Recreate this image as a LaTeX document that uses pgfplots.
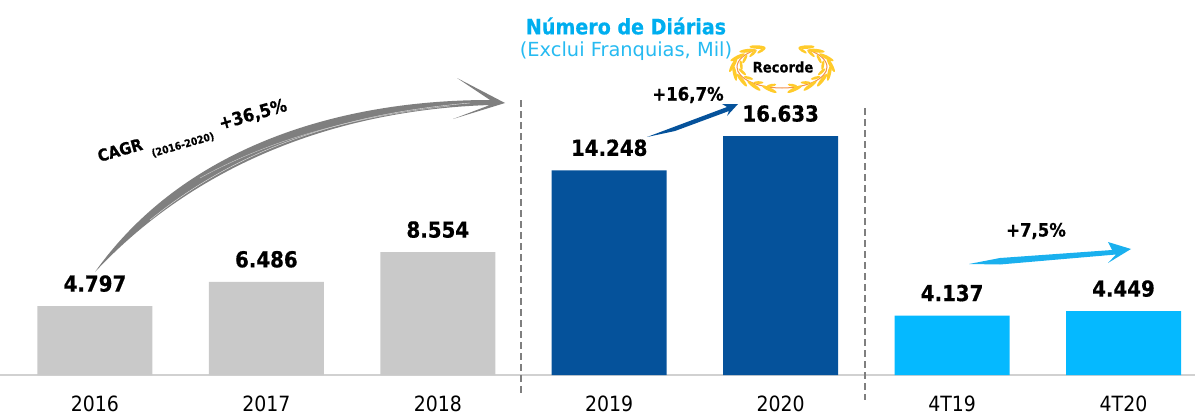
\documentclass[border=0pt]{standalone}
\usepackage{fontspec}
\setmainfont{DejaVu Sans}
\newfontfamily\cond{DejaVu Sans Condensed}[BoldFeatures={FakeBold=0.6}]
\usepackage{pgfplots}
\pgfplotsset{compat=1.18}
\definecolor{bargray}{HTML}{C9C9C9}
\definecolor{bardark}{HTML}{05529B}
\definecolor{barlight}{HTML}{05B9FF}
\definecolor{titleblue}{HTML}{00AEEF}
\definecolor{arrowgray}{HTML}{7F7F7F}
\definecolor{arrowlight}{HTML}{1AB0EE}
\definecolor{leafgold}{HTML}{FFCB2B}
\definecolor{stemorange}{HTML}{F2914A}
\begin{document}
\begin{tikzpicture}
\useasboundingbox (0,-19.5pt) rectangle (597.5pt,187.5pt);
\begin{axis}[
    scale only axis,
    width=597.5pt, height=187.5pt,
    xmin=-0.554, xmax=6.417,
    ymin=0, ymax=26100,
    ybar, bar shift=0pt, bar width=57.5pt,
    clip=false,
    axis y line=none,
    axis x line*=bottom,
    x axis line style={-, draw=black!18, line width=1pt},
    xtick={0,1,2,3,4,5,6},
    xticklabels={2016,2017,2018,2019,2020,4T19,4T20},
    major tick length=0pt,
    xtick style={draw=none},
    xticklabel style={font=\cond\fontsize{10.5}{12}\selectfont, anchor=base, yshift=-18.25pt},
    nodes near coords,
    /pgf/number format/1000 sep={.},
    /pgf/number format/assume math mode=true,
    every node near coord/.append style={font=\cond\bfseries\fontsize{11}{13}\selectfont, anchor=center, yshift=11.25pt},
]
\addplot[fill=bargray, draw=none] coordinates {(0,4797) (1,6486) (2,8554)};
\addplot[fill=bardark, draw=none] coordinates {(3,14248) (4,16633)};
\addplot[fill=barlight, draw=none] coordinates {(5,4137) (6,4449)};
\end{axis}
% annotations in picture pixels
\begin{scope}[x=0.5pt,y=-0.5pt,yshift=187.5pt]
\draw[arrowgray, line width=0.75pt, dash pattern=on 3.5pt off 2pt] (521,100) -- (521,395);
\draw[arrowgray, line width=0.75pt, dash pattern=on 3.5pt off 2pt] (865,108) -- (865,400);
% titles
\node[text=titleblue, font=\cond\bfseries\fontsize{10.6}{12}\selectfont] at (626,26) {Número de Diárias};
\node[text=titleblue!85, font=\fontsize{9.7}{11}\selectfont] at (626,51) {(Exclui Franquias, Mil)};
% CAGR arrow
\fill[arrowgray] (95,272) .. controls (180,152) and (330,100) .. (490,100)
  -- (457,78) -- (505,103) -- (453,119) -- (490,105)
  .. controls (335,110) and (195,165) .. (95,272) -- cycle;
\draw[white!80!arrowgray, line width=0.2pt] (150,220) .. controls (230,155) and (330,115) .. (470,103);
\draw[white!60!arrowgray, line width=0.2pt] (200,178) .. controls (260,145) and (340,118) .. (450,106);
\node[rotate=16, font=\cond\bfseries\fontsize{8.2}{10}\selectfont] at (120,150) {CAGR};
\node[rotate=16, font=\cond\bfseries\fontsize{5.2}{7}\selectfont] at (183,145) {(2016-2020)};
\node[rotate=16, font=\cond\bfseries\fontsize{9}{11}\selectfont] at (253,115) {+36,5\%};
% 2019 to 2020 arrow
\fill[bardark] (647,137) -- (727,107) -- (722,104) -- (738,104) -- (727,116) -- (729,111) -- (675,131) -- cycle;
\node[font=\cond\bfseries\fontsize{9.2}{11}\selectfont] at (688,95) {+16,7\%};
% 4T19 to 4T20 arrow
\fill[arrowlight] (969,264) -- (1000,258) -- (1112,250) -- (1108,242) -- (1131,249) -- (1108,263) -- (1116,254.5) -- (1000,264.5) -- cycle;
\node[font=\cond\bfseries\fontsize{9.2}{11}\selectfont] at (1036,231) {+7,5\%};
% wreath
\draw[stemorange, line width=0.5pt] (782,88) arc[start angle=90, end angle=235, x radius=45, y radius=21];
\draw[stemorange, line width=0.5pt] (782,88) arc[start angle=90, end angle=-55, x radius=45, y radius=21];
\foreach \a/\t in {105/-18,125/-18,145/-18,165/-18,185/-18,205/-18,225/-18,240/-18,75/18,55/18,35/18,15/18,-5/18,-25/18,-45/18,-60/18}{
  \pgfmathsetmacro\px{782+45*cos(\a)}
  \pgfmathsetmacro\py{67+21*sin(\a)}
  \pgfmathsetmacro\r{atan2(-21*cos(\a),-45*sin(\a))}
  \pgfmathsetmacro\qx{\px+4*cos(\a)}
  \pgfmathsetmacro\qy{\py+2*sin(\a)}
  \pgfmathsetmacro\sx{\px-4*cos(\a)}
  \pgfmathsetmacro\sy{\py-2*sin(\a)}
  \pgfmathsetmacro\ra{\r+\t}
  \pgfmathsetmacro\rb{\r-\t}
  \fill[leafgold, rotate around={\ra:(\qx,\qy)}] (\qx,\qy) ellipse (8 and 1.8);
  \fill[leafgold, rotate around={\rb:(\sx,\sy)}] (\sx,\sy) ellipse (5 and 1.4);
}
\node[font=\cond\bfseries\fontsize{7.3}{10}\selectfont] at (783,67) {Recorde};
\end{scope}
\end{tikzpicture}
\end{document}
